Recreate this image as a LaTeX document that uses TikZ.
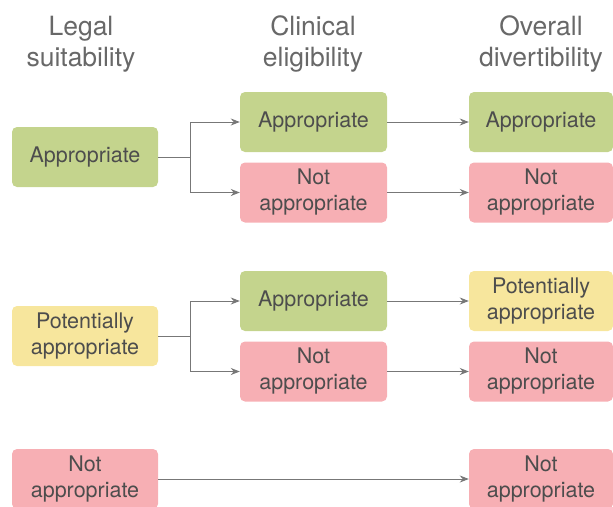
\documentclass[tikz,border=0pt]{standalone}
\usepackage{fontspec}
\setmainfont{TeX Gyre Heros}
\usetikzlibrary{arrows.meta}
\definecolor{gbox}{HTML}{C4D48D}
\definecolor{rbox}{HTML}{F7AFB4}
\definecolor{ybox}{HTML}{F7E69D}
\definecolor{txt}{HTML}{4D4D4D}
\definecolor{ln}{HTML}{777777}
\begin{document}
\begin{tikzpicture}[x=1pt,y=-1pt,
  box/.style={rounded corners=5pt,minimum width=146pt,minimum height=60pt,inner sep=0pt,align=center,text=txt,font=\fontsize{21.5}{26}\selectfont},
  gb/.style={box,fill=gbox},
  rb/.style={box,fill=rbox},
  yb/.style={box,fill=ybox},
  hd/.style={align=center,text=txt!85,font=\fontsize{26.5}{31}\selectfont},
  arr/.style={draw=ln,line width=1pt,-{Stealth[length=9pt,width=7pt]}},
  ln/.style={draw=ln,line width=1pt}]
\useasboundingbox (0,0) rectangle (613,506);
\node[hd] (h1) at (81,44) {Legal\\suitability};
\node[hd] (h2) at (313,44) {Clinical\\eligibility};
\node[hd] (h3) at (541,44) {Overall\\divertibility};
% left
\node[gb] (l1) at (85,157) {Appropriate};
\node[yb] (l2) at (85,336) {Potentially\\appropriate};
\node[rb] (l3) at (85,479) {Not\\appropriate};
% middle
\node[gb,minimum width=147pt] (m1) at (313.5,122) {Appropriate};
\node[rb,minimum width=147pt] (m2) at (313.5,192.5) {Not\\appropriate};
\node[gb,minimum width=147pt] (m3) at (313.5,301) {Appropriate};
\node[rb,minimum width=147pt] (m4) at (313.5,371.5) {Not\\appropriate};
% right
\node[gb,minimum width=144pt] (r1) at (541,122) {Appropriate};
\node[rb,minimum width=144pt] (r2) at (541,192.5) {Not\\appropriate};
\node[yb,minimum width=144pt] (r3) at (541,301) {Potentially\\appropriate};
\node[rb,minimum width=144pt] (r4) at (541,371.5) {Not\\appropriate};
\node[rb,minimum width=144pt] (r5) at (541,479) {Not\\appropriate};
% connectors
\coordinate (j1) at (190,157);
\coordinate (j2) at (190,336);
\draw[ln] (l1.east) -- (j1);
\draw[arr] (j1) |- (m1.west);
\draw[arr] (j1) |- (m2.west);
\draw[ln] (l2.east) -- (j2);
\draw[arr] (j2) |- (m3.west);
\draw[arr] (j2) |- (m4.west);
\draw[arr] (m1) -- (r1);
\draw[arr] (m2) -- (r2);
\draw[arr] (m3) -- (r3);
\draw[arr] (m4) -- (r4);
\draw[arr] (l3) -- (r5);
\end{tikzpicture}
\end{document}
